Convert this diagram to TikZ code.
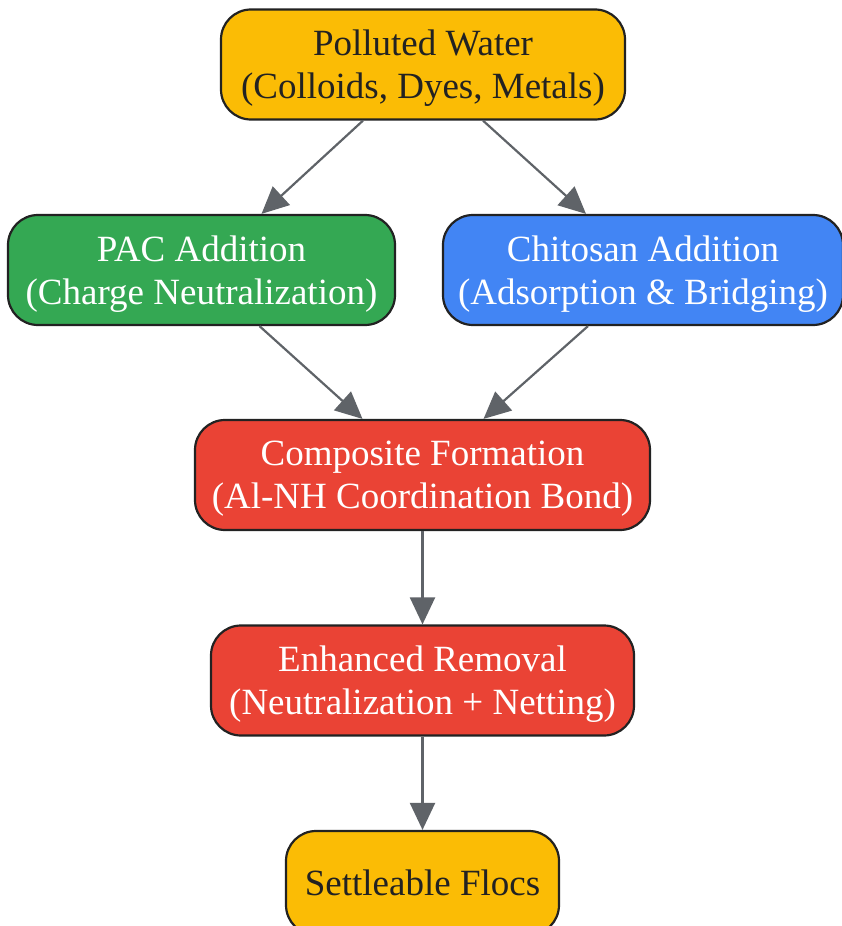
\documentclass[tikz,border=0pt]{standalone}
\usepackage{fontspec}
\setmainfont{Liberation Serif}
\usetikzlibrary{arrows.meta}
\definecolor{gyellow}{HTML}{FBBC05}
\definecolor{ggreen}{HTML}{34A853}
\definecolor{gblue}{HTML}{4285F4}
\definecolor{gred}{HTML}{EA4335}
\definecolor{edgegray}{HTML}{5F6368}
\definecolor{inkdark}{HTML}{222222}

\begin{document}
\begin{tikzpicture}[
    x=1pt, y=1pt,
    stagebox/.style={draw=inkdark, line width=2.2pt, rounded corners=30pt,
        inner sep=0pt, minimum height=110pt, align=center, text depth=0pt,
        font=\fontsize{37}{43}\selectfont},
    flow/.style={draw=edgegray, line width=2.2pt,
        -{Triangle[length=27pt, width=25pt]}}
]
    \useasboundingbox (0,0) rectangle (842,-926);
    % process stages, top to bottom
    \node[stagebox, fill=gyellow, text=inkdark, minimum width=404pt] (water)
        at (423,-64.5) {Polluted Water\\(Colloids, Dyes, Metals)};
    \node[stagebox, fill=ggreen, text=white, minimum width=387pt] (pac)
        at (201.5,-270) {PAC Addition\\(Charge Neutralization)};
    \node[stagebox, fill=gblue, text=white, minimum width=400pt] (chitosan)
        at (643,-270) {Chitosan Addition\\(Adsorption \& Bridging)};
    \node[stagebox, fill=gred, text=white, minimum width=455pt] (composite)
        at (422.5,-475) {Composite Formation\\(Al-NH Coordination Bond)};
    \node[stagebox, fill=gred, text=white, minimum width=423pt] (removal)
        at (422.5,-680.5) {Enhanced Removal\\(Neutralization + Netting)};
    \node[stagebox, fill=gyellow, text=inkdark, minimum width=273pt,
        minimum height=104pt] (flocs)
        at (422.5,-883) {Settleable Flocs};

    \draw[flow] ([xshift=-60pt]water.south) -- ([xshift=60pt]pac.north);
    \draw[flow] ([xshift=60pt]water.south) -- ([xshift=-57pt]chitosan.north);
    \draw[flow] ([xshift=58pt]pac.south) -- ([xshift=-60pt]composite.north);
    \draw[flow] ([xshift=-55pt]chitosan.south) -- ([xshift=61pt]composite.north);
    \draw[flow] (composite) -- (removal);
    \draw[flow] (removal) -- (flocs);
\end{tikzpicture}
\end{document}
